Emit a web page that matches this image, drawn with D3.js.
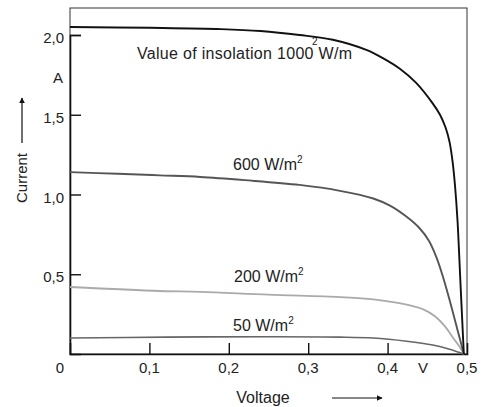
<!DOCTYPE html>
<html>
<head>
<meta charset="utf-8">
<style>
  body { margin: 0; background: #fff; }
  svg { display: block; font-family: "Liberation Sans", Arial, sans-serif; }
</style>
</head>
<body>
<svg width="482" height="407"></svg>
<script src="https://d3js.org/d3.v7.min.js"></script>
<script>

// voltage (V) and current (A)
var volt1000 = [0, 0.1, 0.19, 0.24, 0.289, 0.331, 0.374, 0.394, 0.415, 0.436, 0.457, 0.466, 0.473, 0.478, 0.482, 0.485, 0.488, 0.492, 0.496];
var amp1000  = [2.05, 2.045, 2.037, 2.025, 2.0, 1.97, 1.905, 1.855, 1.79, 1.70, 1.57, 1.50, 1.42, 1.33, 1.2, 1.05, 0.84, 0.42, 0];

var volt600 = [0, 0.06, 0.113, 0.164, 0.22, 0.289, 0.34, 0.382, 0.403, 0.424, 0.44, 0.452, 0.462, 0.47, 0.478, 0.486, 0.491, 0.496];
var amp600  = [1.14, 1.13, 1.12, 1.11, 1.09, 1.06, 1.023, 0.975, 0.93, 0.86, 0.79, 0.71, 0.60, 0.48, 0.34, 0.19, 0.095, 0];

var volt200 = [0, 0.113, 0.164, 0.25, 0.34, 0.382, 0.424, 0.445, 0.46, 0.472, 0.482, 0.49, 0.496];
var amp200  = [0.42, 0.395, 0.39, 0.372, 0.357, 0.343, 0.31, 0.28, 0.235, 0.175, 0.105, 0.05, 0];

var volt50 = [0, 0.12, 0.25, 0.34, 0.382, 0.424, 0.457, 0.478, 0.496];
var amp50  = [0.10, 0.106, 0.108, 0.106, 0.10, 0.08, 0.056, 0.03, 0];

var xTicks = [0.1, 0.2, 0.3, 0.4];
var xTickLabels = ["0,1", "0,2", "0,3", "0,4"];
var yTicks = [0.5, 1.0, 1.5, 2.0];
var yTickLabels = ["0,5", "1,0", "1,5", "2,0"];

var svg = d3.select("svg");

var x = d3.scaleLinear().domain([0, 0.5]).range([70, 467]);
var y = d3.scaleLinear().domain([0, 2.0]).range([354, 35]);
var yTop = 8;

var line = d3.line()
    .x(function(d) { return x(d[0]); })
    .y(function(d) { return y(d[1]); })
    .curve(d3.curveCatmullRom.alpha(0.5));

// frame
svg.append("rect")
    .attr("x", x(0)).attr("y", yTop)
    .attr("width", x(0.5) - x(0)).attr("height", y(0) - yTop)
    .attr("fill", "none").attr("stroke", "#333").attr("stroke-width", 1);

// axes with inward ticks
var xAxis = svg.append("g")
    .attr("transform", "translate(0," + y(0) + ")")
    .call(d3.axisTop(x).tickValues(xTicks).tickSize(11).tickFormat(""));
var yAxis = svg.append("g")
    .attr("transform", "translate(" + x(0) + ",0)")
    .call(d3.axisRight(y).tickValues(yTicks).tickSize(11).tickFormat(""));
[xAxis, yAxis].forEach(function(a) {
  a.select(".domain").attr("stroke", "#111").attr("stroke-width", 1.6);
  a.selectAll(".tick line").attr("stroke", "#111").attr("stroke-width", 1.4);
});

// tick labels
svg.append("g").selectAll("text")
    .data(xTicks)
    .enter().append("text")
      .attr("x", function(d) { return x(d); })
      .attr("y", 373)
      .attr("text-anchor", "middle")
      .attr("font-size", 15)
      .attr("fill", "#222")
      .text(function(d, i) { return xTickLabels[i]; });
svg.append("text").attr("x", 60).attr("y", 373).attr("text-anchor", "middle")
    .attr("font-size", 15).attr("fill", "#222").text("0");
svg.append("text").attr("x", x(0.5)).attr("y", 373).attr("text-anchor", "middle")
    .attr("font-size", 15).attr("fill", "#222").text("0,5");
svg.append("text").attr("x", 423).attr("y", 373).attr("text-anchor", "middle")
    .attr("font-size", 15).attr("fill", "#222").text("V");

svg.append("g").selectAll("text")
    .data(yTicks)
    .enter().append("text")
      .attr("x", 64)
      .attr("y", function(d) { return y(d) + 8; })
      .attr("text-anchor", "end")
      .attr("font-size", 15)
      .attr("fill", "#222")
      .text(function(d, i) { return yTickLabels[i]; });
svg.append("text").attr("x", 63).attr("y", 83).attr("text-anchor", "end")
    .attr("font-size", 15).attr("fill", "#222").text("A");

// axis titles with arrows
svg.append("defs").append("marker")
    .attr("id", "arr")
    .attr("viewBox", "0 0 10 10")
    .attr("refX", 9).attr("refY", 5)
    .attr("markerWidth", 6).attr("markerHeight", 6)
    .attr("markerUnits", "userSpaceOnUse")
    .attr("orient", "auto")
  .append("path")
    .attr("d", "M0,0L10,5L0,10z")
    .attr("fill", "#111");

svg.append("text")
    .attr("transform", "translate(27,178) rotate(-90)")
    .attr("text-anchor", "middle")
    .attr("font-size", 15)
    .attr("fill", "#222")
    .text("Current");
svg.append("line")
    .attr("x1", 22).attr("y1", 143).attr("x2", 22).attr("y2", 98)
    .attr("stroke", "#111").attr("stroke-width", 1.2)
    .attr("marker-end", "url(#arr)");

svg.append("text")
    .attr("x", 263).attr("y", 403)
    .attr("text-anchor", "middle")
    .attr("font-size", 16)
    .attr("fill", "#222")
    .text("Voltage");
svg.append("line")
    .attr("x1", 332).attr("y1", 398).attr("x2", 382).attr("y2", 398)
    .attr("stroke", "#111").attr("stroke-width", 1.2)
    .attr("marker-end", "url(#arr)");

// curves
var curves = [
  { v: volt50, a: amp50, color: "#666", w: 1.6 },
  { v: volt200, a: amp200, color: "#aaa", w: 1.8 },
  { v: volt600, a: amp600, color: "#555", w: 1.9 },
  { v: volt1000, a: amp1000, color: "#111", w: 1.9 }
];
svg.append("g").selectAll("path")
    .data(curves)
    .enter().append("path")
      .attr("d", function(c) { return line(c.v.map(function(v, i) { return [v, c.a[i]]; })); })
      .attr("fill", "none")
      .attr("stroke", function(c) { return c.color; })
      .attr("stroke-width", function(c) { return c.w; });

// curve labels
function unitLabel(tx, ty, txt) {
  var t = svg.append("text")
      .attr("x", tx).attr("y", ty)
      .attr("font-size", 16)
      .attr("fill", "#222")
      .text(txt + " W/m");
  t.append("tspan").attr("dy", -7).attr("font-size", 10).text("2");
}
unitLabel(233, 170, "600");
unitLabel(234, 282, "200");
unitLabel(233, 331, "50");

svg.append("text")
    .attr("x", 137).attr("y", 59)
    .attr("font-size", 16)
    .attr("textLength", 215)
    .attr("fill", "#222")
    .text("Value of insolation 1000 W/m");
svg.append("text")
    .attr("x", 312).attr("y", 45)
    .attr("font-size", 10)
    .attr("fill", "#222")
    .text("2");

</script>
</body>
</html>
